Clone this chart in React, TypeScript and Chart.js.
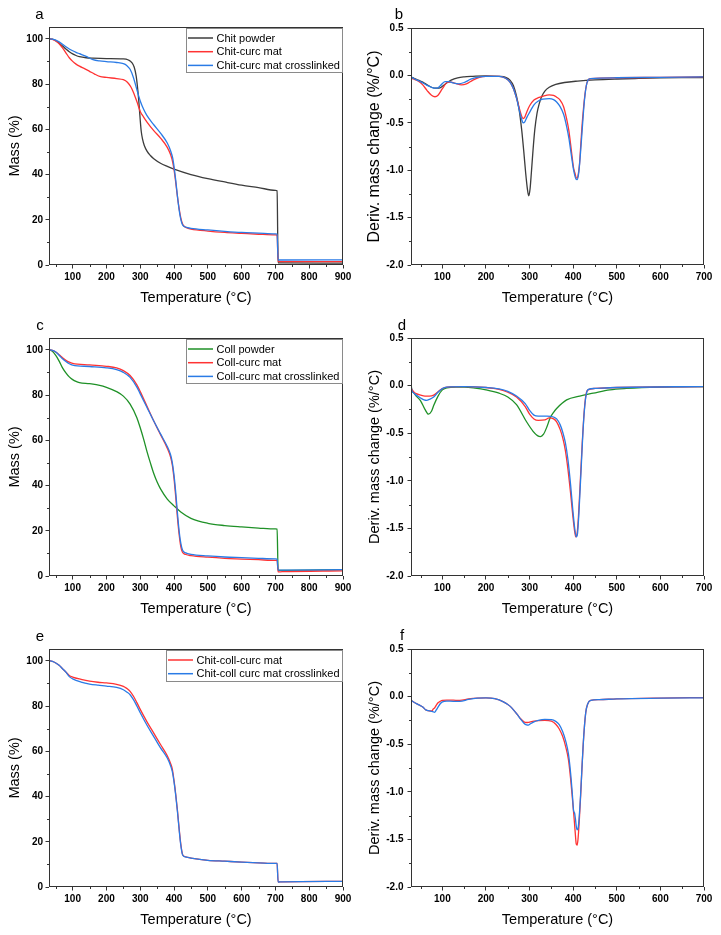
import React, { useEffect, useRef } from 'react';
import { Chart, registerables } from 'chart.js';

Chart.register(...registerables);
Chart.defaults.font.family = '"Liberation Sans", Arial, sans-serif';

// ---------------- colours ----------------
const GRAY = '#3c3c3c';
const RED = '#ff3333';
const BLUE = '#2a7be6';
const GREEN = '#1f9127';
const FRAME = '#333333';

// ---------------- tick values ----------------
const tgaXMajor = [100, 200, 300, 400, 500, 600, 700, 800, 900];
const tgaXMinor = [50, 150, 250, 350, 450, 550, 650, 750, 850];
const tgaYMajor = [0, 20, 40, 60, 80, 100];
const tgaYMinor = [10, 30, 50, 70, 90];
const dtgXMajor = [100, 200, 300, 400, 500, 600, 700];
const dtgXMinor = [50, 150, 250, 350, 450, 550, 650];
const dtgYMajor = [-2.0, -1.5, -1.0, -0.5, 0.0, 0.5];
const dtgYMinor = [-1.75, -1.25, -0.75, -0.25, 0.25];

// ---------------- panel a : TGA chitosan ----------------
const chitPowderT = [30, 40, 50, 60, 70, 80, 90, 100, 110, 120, 140, 160, 200, 250, 265, 275, 282, 288, 293, 297, 300, 303, 307, 312, 320, 330, 340, 360, 380, 400, 450, 500, 550, 600, 650, 700, 705, 708, 720, 900];
const chitPowderMass = [100, 99.8, 99.2, 98.0, 96.8, 95.5, 94.3, 93.3, 92.6, 92.1, 91.6, 91.4, 91.2, 91.1, 90.6, 89.5, 87.5, 83.5, 77, 70, 64, 59, 55.5, 52.8, 50.3, 48.4, 47.0, 45.0, 43.6, 42.4, 40.0, 38.2, 36.7, 35.3, 34.2, 33.0, 32.8, 1.0, 0.9, 0.8];

const chitCurcT = [30, 40, 50, 60, 70, 80, 90, 100, 110, 120, 135, 150, 165, 180, 200, 230, 250, 262, 272, 280, 290, 300, 310, 320, 340, 360, 380, 390, 396, 400, 405, 410, 415, 420, 425, 430, 440, 450, 500, 550, 600, 650, 700, 705, 708, 720, 900];
const chitCurcMass = [100, 99.7, 99, 97.8, 96, 93.8, 91.6, 90, 88.8, 87.9, 86.8, 85.6, 84.4, 83.4, 82.9, 82.4, 81.9, 80.8, 78.8, 76.3, 72.3, 67.9, 65.4, 63.2, 59.4, 56.1, 52, 48.7, 45.5, 42.1, 36.5, 30.3, 25, 20.8, 18.2, 17.1, 16.3, 15.9, 15.0, 14.4, 14.0, 13.6, 13.3, 13.2, 1.5, 1.5, 1.5];

const chitCurcXlT = [30, 40, 50, 60, 70, 80, 90, 100, 110, 120, 140, 160, 180, 200, 230, 250, 260, 270, 280, 290, 300, 310, 320, 340, 360, 380, 390, 396, 400, 405, 410, 415, 420, 425, 430, 440, 450, 500, 550, 600, 650, 700, 705, 708, 720, 900];
const chitCurcXlMass = [100, 99.8, 99.4, 98.6, 97.6, 96.5, 95.5, 94.7, 94.0, 93.4, 92.2, 90.8, 90.2, 89.9, 89.5, 89.0, 88.2, 86.5, 82.8, 77.5, 72.5, 68.8, 66.0, 62.0, 58.3, 53.9, 50.4, 47.3, 43.5, 37.5, 30.5, 24.5, 20.2, 17.8, 17.0, 16.5, 16.2, 15.5, 14.9, 14.4, 14.1, 13.8, 13.7, 2.2, 2.2, 2.3];

// ---------------- panel b : DTG chitosan ----------------
const chitPowderDtgT = [28.3, 35, 45, 55, 65, 75, 85, 92, 100, 110, 120, 135, 150, 170, 200, 230, 245, 255, 263, 270, 276, 282, 287, 291, 295, 298, 301, 304, 308, 312, 317, 322, 328, 335, 345, 360, 380, 410, 450, 500, 550, 600, 650, 700];
const chitPowderDtg = [-0.02, -0.03, -0.05, -0.07, -0.10, -0.125, -0.135, -0.135, -0.115, -0.08, -0.05, -0.025, -0.015, -0.01, -0.005, -0.01, -0.02, -0.05, -0.11, -0.22, -0.36, -0.58, -0.82, -1.03, -1.20, -1.27, -1.20, -1.03, -0.78, -0.57, -0.40, -0.30, -0.22, -0.165, -0.125, -0.095, -0.075, -0.06, -0.047, -0.038, -0.032, -0.027, -0.024, -0.022];

const chitCurcDtgT = [28.3, 35, 45, 55, 65, 75, 83, 90, 100, 111, 120, 130, 144, 155, 170, 185, 200, 230, 245, 255, 263, 270, 276, 281, 285, 289, 294, 300, 310, 320, 330, 345, 355, 362, 370, 378, 385, 390, 396, 401, 404, 407, 409, 411, 414, 417, 420, 424, 427, 430, 434, 440, 500, 600, 700];
const chitCurcDtg = [-0.03, -0.04, -0.06, -0.10, -0.16, -0.21, -0.225, -0.21, -0.14, -0.075, -0.07, -0.085, -0.10, -0.09, -0.05, -0.02, -0.01, -0.01, -0.03, -0.07, -0.14, -0.24, -0.34, -0.42, -0.455, -0.44, -0.38, -0.32, -0.26, -0.235, -0.22, -0.205, -0.21, -0.23, -0.26, -0.33, -0.46, -0.58, -0.80, -0.98, -1.03, -1.08, -1.085, -1.06, -0.96, -0.76, -0.55, -0.33, -0.20, -0.11, -0.05, -0.035, -0.025, -0.02, -0.015];

const chitCurcXlDtgT = [28.3, 28.8, 30, 35, 45, 55, 65, 75, 82, 88, 95, 106, 115, 125, 137, 150, 165, 180, 200, 230, 245, 255, 263, 270, 276, 281, 285, 289, 294, 300, 310, 320, 330, 345, 355, 362, 370, 378, 385, 390, 396, 401, 406, 409, 412, 415, 418, 421, 424, 427, 430, 434, 440, 500, 600, 700];
const chitCurcXlDtg = [0.15, 0.0, -0.02, -0.035, -0.055, -0.08, -0.105, -0.125, -0.135, -0.135, -0.11, -0.065, -0.065, -0.08, -0.09, -0.075, -0.04, -0.02, -0.01, -0.01, -0.03, -0.07, -0.14, -0.24, -0.36, -0.45, -0.50, -0.49, -0.44, -0.39, -0.31, -0.27, -0.25, -0.245, -0.255, -0.28, -0.33, -0.41, -0.54, -0.66, -0.85, -1.00, -1.09, -1.10, -1.05, -0.92, -0.74, -0.55, -0.36, -0.21, -0.11, -0.05, -0.033, -0.025, -0.02, -0.015];

// ---------------- panel c : TGA collagen ----------------
const collPowderT = [30, 40, 50, 60, 70, 80, 90, 100, 110, 120, 150, 180, 200, 230, 250, 270, 290, 300, 310, 320, 330, 340, 350, 360, 380, 400, 420, 450, 500, 550, 600, 650, 700, 705, 708, 720, 900];
const collPowderMass = [100, 99.3, 97.5, 95, 92, 89.8, 88, 86.8, 86, 85.5, 85, 84.3, 83.4, 81.5, 79.5, 76, 70, 65.5, 60.5, 55, 50, 45.3, 41.5, 38.5, 34, 31, 28.3, 25.5, 23.3, 22.3, 21.7, 21.2, 20.8, 20.7, 2.5, 2.5, 2.8];

const collCurcT = [30, 40, 50, 60, 70, 80, 90, 100, 150, 200, 230, 250, 270, 290, 300, 320, 340, 360, 380, 390, 395, 400, 405, 410, 415, 420, 425, 435, 450, 500, 550, 600, 650, 700, 705, 708, 720, 900];
const collCurcMass = [100, 99.7, 99, 97.8, 96.5, 95.3, 94.5, 94, 93.3, 92.7, 92, 90.8, 88.6, 84.5, 81.5, 75, 68.5, 62.5, 56.5, 52.5, 49, 43, 35, 26, 18.5, 13, 10.5, 9.5, 9.0, 8.3, 7.8, 7.5, 7.2, 6.9, 6.9, 1.8, 1.9, 2.3];

const collCurcXlT = [30, 40, 50, 60, 70, 80, 90, 100, 150, 200, 230, 250, 270, 290, 300, 320, 340, 360, 380, 390, 395, 400, 405, 410, 415, 420, 425, 435, 450, 500, 550, 600, 650, 700, 705, 708, 720, 900];
const collCurcXlMass = [100, 99.7, 99, 97.6, 96, 94.8, 93.8, 93.2, 92.6, 92.0, 91.2, 90, 87.8, 83.5, 80.5, 74.5, 68.5, 62.8, 57.2, 53.5, 50, 44.5, 37, 28, 20, 14.5, 11.5, 10.2, 9.6, 8.9, 8.4, 8.1, 7.8, 7.6, 7.5, 2.6, 2.6, 2.8];

// ---------------- panel d : DTG collagen ----------------
const collPowderDtgT = [28.3, 28.8, 30, 35, 40, 50, 60, 68, 75, 80, 90, 100, 110, 130, 150, 175, 200, 230, 250, 270, 293, 308, 318, 325, 332, 340, 347, 355, 362, 385, 415, 446, 484, 522, 598, 700];
const collPowderDtg = [0.2, 0.0, -0.05, -0.08, -0.11, -0.16, -0.25, -0.30, -0.27, -0.21, -0.11, -0.045, -0.025, -0.015, -0.015, -0.026, -0.045, -0.08, -0.12, -0.20, -0.38, -0.48, -0.525, -0.535, -0.51, -0.43, -0.34, -0.28, -0.24, -0.15, -0.11, -0.08, -0.045, -0.03, -0.015, -0.01];

const collCurcDtgT = [28.3, 30, 35, 40, 50, 60, 70, 80, 90, 100, 110, 150, 200, 230, 250, 270, 290, 300, 310, 320, 335, 345, 355, 362, 370, 376, 382, 388, 394, 399, 403, 406, 409, 412, 415, 418, 421, 424, 427, 430, 434, 450, 500, 700];
const collCurcDtg = [-0.02, -0.04, -0.07, -0.085, -0.10, -0.11, -0.11, -0.10, -0.065, -0.03, -0.015, -0.01, -0.02, -0.04, -0.07, -0.12, -0.22, -0.30, -0.35, -0.365, -0.36, -0.34, -0.35, -0.38, -0.46, -0.55, -0.68, -0.88, -1.13, -1.36, -1.52, -1.59, -1.55, -1.38, -1.12, -0.85, -0.58, -0.35, -0.18, -0.08, -0.045, -0.03, -0.02, -0.01];

const collCurcXlDtgT = [28.3, 30, 35, 40, 50, 58, 64, 70, 80, 90, 100, 110, 150, 200, 230, 250, 270, 290, 300, 310, 320, 340, 355, 362, 370, 376, 382, 388, 394, 399, 403, 407, 410, 413, 416, 419, 422, 425, 428, 431, 435, 450, 500, 700];
const collCurcXlDtg = [0.0, -0.05, -0.08, -0.10, -0.13, -0.15, -0.155, -0.145, -0.12, -0.07, -0.03, -0.015, -0.01, -0.02, -0.035, -0.06, -0.11, -0.19, -0.26, -0.31, -0.32, -0.32, -0.33, -0.35, -0.41, -0.49, -0.60, -0.78, -1.04, -1.30, -1.48, -1.59, -1.55, -1.35, -1.08, -0.80, -0.52, -0.30, -0.15, -0.07, -0.04, -0.03, -0.02, -0.01];

// ---------------- panel e : TGA chitosan-collagen ----------------
const chitCollT = [30, 40, 50, 60, 70, 80, 90, 100, 125, 150, 175, 200, 230, 250, 260, 270, 280, 290, 300, 320, 340, 360, 380, 390, 395, 400, 405, 410, 415, 420, 425, 430, 440, 450, 500, 550, 600, 650, 700, 705, 708, 720, 900];
const chitCollCurcMass = [100, 99.7, 99, 98, 96.5, 95, 93.5, 92.8, 91.8, 91, 90.5, 90.2, 89.6, 88.7, 87.8, 86.5, 84.3, 81.5, 78.5, 73, 68, 63, 58, 54.5, 52, 47, 41, 34, 26, 19, 14.5, 13.6, 13.1, 12.8, 11.8, 11.4, 11.0, 10.7, 10.4, 10.4, 2.2, 2.3, 2.5];
const chitCollCurcXlMass = [100, 99.7, 99, 98, 96.5, 95, 93, 92, 90.6, 89.7, 89.2, 88.8, 88.2, 87.2, 86.2, 85, 82.8, 80, 77, 71.5, 66.5, 61.5, 57, 53.5, 51, 46.5, 40.5, 33.5, 25.5, 18.5, 14.3, 13.5, 13.1, 12.8, 11.8, 11.4, 11.0, 10.7, 10.4, 10.4, 2.2, 2.3, 2.5];

// ---------------- panel f : DTG chitosan-collagen ----------------
const chitCollDtgT = [28.3, 35, 45, 55, 62, 70, 76, 79, 82, 86, 90, 95, 100, 110, 125, 140, 160, 180, 200, 220, 240, 255, 265, 272, 280, 287, 293, 297, 302, 310, 320, 335, 350, 360, 368, 376, 383, 389, 394, 398, 401, 403, 405, 407, 409, 411, 414, 417, 420, 423, 426, 429, 433, 440, 460, 500, 600, 700];
const chitCollCurcDtg = [-0.04, -0.06, -0.085, -0.11, -0.14, -0.15, -0.15, -0.13, -0.12, -0.09, -0.065, -0.05, -0.04, -0.037, -0.038, -0.04, -0.025, -0.016, -0.014, -0.022, -0.055, -0.10, -0.15, -0.19, -0.235, -0.265, -0.272, -0.27, -0.265, -0.258, -0.252, -0.25, -0.258, -0.29, -0.34, -0.42, -0.53, -0.66, -0.86, -1.06, -1.22, -1.33, -1.45, -1.55, -1.56, -1.50, -1.30, -1.05, -0.76, -0.50, -0.30, -0.16, -0.08, -0.04, -0.032, -0.024, -0.015, -0.01];
const chitCollCurcXlDtg = [-0.04, -0.06, -0.085, -0.11, -0.14, -0.15, -0.155, -0.16, -0.165, -0.14, -0.11, -0.075, -0.055, -0.047, -0.05, -0.05, -0.03, -0.017, -0.014, -0.022, -0.055, -0.10, -0.15, -0.19, -0.24, -0.28, -0.298, -0.30, -0.285, -0.265, -0.25, -0.24, -0.242, -0.26, -0.295, -0.37, -0.47, -0.60, -0.80, -1.02, -1.20, -1.22, -1.28, -1.36, -1.40, -1.39, -1.25, -1.03, -0.76, -0.50, -0.30, -0.16, -0.08, -0.04, -0.032, -0.024, -0.017, -0.013];

// ---------------- panel definitions ----------------
type Series = { label: string; t: number[]; v: number[]; color: string };
type PanelDef = {
  kind: 'tga' | 'dtg';
  letter: string;
  letterPos: [number, number];
  canvas: { x: number; y: number; w: number; h: number };
  area: { left: number; top: number; right: number; bottom: number };
  legend: boolean;
  yTitleSize: number;
  series: Series[];
};

const PANELS: PanelDef[] = [
  {
    kind: 'tga', letter: 'a', letterPos: [39.5, 19],
    canvas: { x: 0, y: 0, w: 360, h: 310 },
    area: { left: 49, top: 27, right: 343, bottom: 265 },
    legend: true, yTitleSize: 14.5,
    series: [
      { label: 'Chit powder', t: chitPowderT, v: chitPowderMass, color: GRAY },
      { label: 'Chit-curc mat', t: chitCurcT, v: chitCurcMass, color: RED },
      { label: 'Chit-curc mat crosslinked', t: chitCurcXlT, v: chitCurcXlMass, color: BLUE },
    ],
  },
  {
    kind: 'dtg', letter: 'b', letterPos: [399, 19],
    canvas: { x: 360, y: 0, w: 361, h: 310 },
    area: { left: 411, top: 28, right: 704, bottom: 265 },
    legend: false, yTitleSize: 16,
    series: [
      { label: 'Chit powder', t: chitPowderDtgT, v: chitPowderDtg, color: GRAY },
      { label: 'Chit-curc mat', t: chitCurcDtgT, v: chitCurcDtg, color: RED },
      { label: 'Chit-curc mat crosslinked', t: chitCurcXlDtgT, v: chitCurcXlDtg, color: BLUE },
    ],
  },
  {
    kind: 'tga', letter: 'c', letterPos: [40, 330],
    canvas: { x: 0, y: 310, w: 360, h: 310 },
    area: { left: 49, top: 338, right: 343, bottom: 576 },
    legend: true, yTitleSize: 14.5,
    series: [
      { label: 'Coll powder', t: collPowderT, v: collPowderMass, color: GREEN },
      { label: 'Coll-curc mat', t: collCurcT, v: collCurcMass, color: RED },
      { label: 'Coll-curc mat crosslinked', t: collCurcXlT, v: collCurcXlMass, color: BLUE },
    ],
  },
  {
    kind: 'dtg', letter: 'd', letterPos: [402, 330],
    canvas: { x: 360, y: 310, w: 361, h: 310 },
    area: { left: 411, top: 338, right: 704, bottom: 576 },
    legend: false, yTitleSize: 14.5,
    series: [
      { label: 'Coll powder', t: collPowderDtgT, v: collPowderDtg, color: GREEN },
      { label: 'Coll-curc mat', t: collCurcDtgT, v: collCurcDtg, color: RED },
      { label: 'Coll-curc mat crosslinked', t: collCurcXlDtgT, v: collCurcXlDtg, color: BLUE },
    ],
  },
  {
    kind: 'tga', letter: 'e', letterPos: [40, 640.5],
    canvas: { x: 0, y: 620, w: 360, h: 315 },
    area: { left: 49, top: 649, right: 343, bottom: 887 },
    legend: true, yTitleSize: 14.5,
    series: [
      { label: 'Chit-coll-curc mat', t: chitCollT, v: chitCollCurcMass, color: RED },
      { label: 'Chit-coll curc mat crosslinked', t: chitCollT, v: chitCollCurcXlMass, color: BLUE },
    ],
  },
  {
    kind: 'dtg', letter: 'f', letterPos: [402, 640],
    canvas: { x: 360, y: 620, w: 361, h: 315 },
    area: { left: 411, top: 649, right: 704, bottom: 887 },
    legend: false, yTitleSize: 14.5,
    series: [
      { label: 'Chit-coll-curc mat', t: chitCollDtgT, v: chitCollCurcDtg, color: RED },
      { label: 'Chit-coll curc mat crosslinked', t: chitCollDtgT, v: chitCollCurcXlDtg, color: BLUE },
    ],
  },
];

const X_AXIS_H = 42;

// ---------------- decoration plugin ----------------
const decorPlugin = {
  id: 'decor',
  afterDraw(chart: any, _args: any, opts: any) {
    const { ctx, chartArea: ca } = chart;
    const xs = chart.scales.x;
    const ys = chart.scales.y;
    ctx.save();
    // frame
    ctx.strokeStyle = FRAME;
    ctx.lineWidth = 1;
    ctx.strokeRect(ca.left + 0.5, ca.top + 0.5, ca.right - ca.left - 1, ca.bottom - ca.top - 1);
    // minor ticks
    ctx.beginPath();
    for (const v of opts.minorX) {
      const px = Math.round(xs.getPixelForValue(v)) + 0.5;
      ctx.moveTo(px, ca.bottom);
      ctx.lineTo(px, ca.bottom + 2);
    }
    for (const v of opts.minorY) {
      const py = Math.round(ys.getPixelForValue(v)) + 0.5;
      ctx.moveTo(ca.left, py);
      ctx.lineTo(ca.left - 2, py);
    }
    ctx.stroke();
    // panel letter
    ctx.fillStyle = '#000';
    ctx.font = '15px "Liberation Sans", Arial, sans-serif';
    ctx.textAlign = 'center';
    ctx.textBaseline = 'alphabetic';
    ctx.fillText(opts.letter, opts.letterX, opts.letterY);
    // legend
    if (opts.legend) {
      const ds = chart.data.datasets;
      ctx.font = '11px "Liberation Sans", Arial, sans-serif';
      const maxW = Math.max(...ds.map((d: any) => ctx.measureText(d.label).width));
      const rowH = 13.7;
      const boxW = 1.5 + 25 + 3.5 + maxW + 3;
      const boxH = 9.5 + (ds.length - 1) * rowH + 7.5;
      const bx = Math.round(ca.right - 1 - boxW);
      const by = Math.round(ca.top + 1);
      ctx.strokeStyle = '#8a8a8a';
      ctx.lineWidth = 1;
      ctx.strokeRect(bx + 0.5, by + 0.5, Math.round(boxW), Math.round(boxH));
      ds.forEach((d: any, i: number) => {
        const y = by + 10 + i * rowH;
        ctx.strokeStyle = d.borderColor;
        ctx.lineWidth = 1.5;
        ctx.beginPath();
        ctx.moveTo(bx + 2, y);
        ctx.lineTo(bx + 27, y);
        ctx.stroke();
        ctx.fillStyle = '#000';
        ctx.textAlign = 'left';
        ctx.textBaseline = 'middle';
        ctx.fillText(d.label, bx + 30.5, y + 0.5);
      });
    }
    ctx.restore();
  },
};

function makeConfig(p: PanelDef): any {
  const isTGA = p.kind === 'tga';
  const c = p.canvas;
  const a = p.area;
  const padTop = a.top - c.y;
  const padRight = c.x + c.w - a.right;
  const padBottom = c.y + c.h - a.bottom - X_AXIS_H;
  const yAxisW = a.left - c.x;
  const xMajor = isTGA ? tgaXMajor : dtgXMajor;
  const yMajor = isTGA ? tgaYMajor : dtgYMajor;
  const tickFont = { family: '"Liberation Sans", Arial, sans-serif', size: 10, weight: 'bold' as const };
  const titleFont = { family: '"Liberation Sans", Arial, sans-serif', size: 14.5 };
  const yTitleFont = { family: '"Liberation Sans", Arial, sans-serif', size: p.yTitleSize };
  const yTitlePadTop = 6 - (p.yTitleSize - 14.5) * 0.6;
  const n = p.series.length;
  return {
    type: 'line',
    data: {
      datasets: p.series.map((s, i) => ({
        label: s.label,
        data: s.t.map((x, j) => ({ x, y: s.v[j] })),
        borderColor: s.color,
        backgroundColor: s.color,
        borderWidth: 1.3,
        pointRadius: 0,
        fill: false,
        cubicInterpolationMode: 'monotone',
        order: n - i,
      })),
    },
    options: {
      responsive: false,
      animation: false,
      devicePixelRatio: 1,
      events: [],
      layout: { padding: { left: 0, top: padTop, right: padRight, bottom: padBottom } },
      plugins: {
        legend: { display: false },
        tooltip: { enabled: false },
        decor: {
          minorX: isTGA ? tgaXMinor : dtgXMinor,
          minorY: isTGA ? tgaYMinor : dtgYMinor,
          letter: p.letter,
          letterX: p.letterPos[0] - c.x,
          letterY: p.letterPos[1] - c.y,
          legend: p.legend,
        },
      },
      scales: {
        x: {
          type: 'linear',
          min: isTGA ? 30 : 28,
          max: isTGA ? 900 : 700,
          afterBuildTicks: (s: any) => { s.ticks = xMajor.map((v) => ({ value: v })); },
          afterFit: (s: any) => { s.height = X_AXIS_H; },
          ticks: {
            autoSkip: false, maxRotation: 0, padding: 3, color: '#000', font: tickFont,
            callback: (v: any) => String(v),
          },
          grid: { display: true, drawOnChartArea: false, drawTicks: true, tickLength: 3.5, tickColor: FRAME, tickWidth: 1 },
          border: { display: false },
          title: { display: true, text: 'Temperature (°C)', color: '#000', font: titleFont, padding: { top: 0, bottom: 0 } },
        },
        y: {
          type: 'linear',
          min: isTGA ? 0 : -2.0,
          max: isTGA ? 105.2 : 0.5,
          afterBuildTicks: (s: any) => { s.ticks = yMajor.map((v) => ({ value: v })); },
          afterFit: (s: any) => { s.width = yAxisW; },
          ticks: {
            autoSkip: false, padding: isTGA ? 2.5 : 4, color: '#000', font: tickFont,
            callback: (v: any) => (isTGA ? String(v) : Number(v).toFixed(1)),
          },
          grid: { display: true, drawOnChartArea: false, drawTicks: true, tickLength: 3.5, tickColor: FRAME, tickWidth: 1 },
          border: { display: false },
          title: {
            display: true,
            text: isTGA ? 'Mass (%)' : 'Deriv. mass change (%/°C)',
            color: '#000', font: yTitleFont, padding: { top: yTitlePadTop, bottom: 0 },
          },
        },
      },
    },
    plugins: [decorPlugin],
  };
}

function Panel({ p }: { p: PanelDef }) {
  const ref = useRef<HTMLCanvasElement>(null);
  useEffect(() => {
    if (!ref.current) return;
    const chart = new Chart(ref.current, makeConfig(p));
    return () => chart.destroy();
  }, [p]);
  const c = p.canvas;
  return (
    <canvas
      ref={ref}
      width={c.w}
      height={c.h}
      style={{ position: 'absolute', left: c.x, top: c.y, width: c.w, height: c.h }}
    />
  );
}

export default function App() {
  return (
    <div style={{ position: 'absolute', left: 0, top: 0, width: 721, height: 935, background: '#fff' }}>
      {PANELS.map((p) => (
        <Panel key={p.letter} p={p} />
      ))}
    </div>
  );
}
